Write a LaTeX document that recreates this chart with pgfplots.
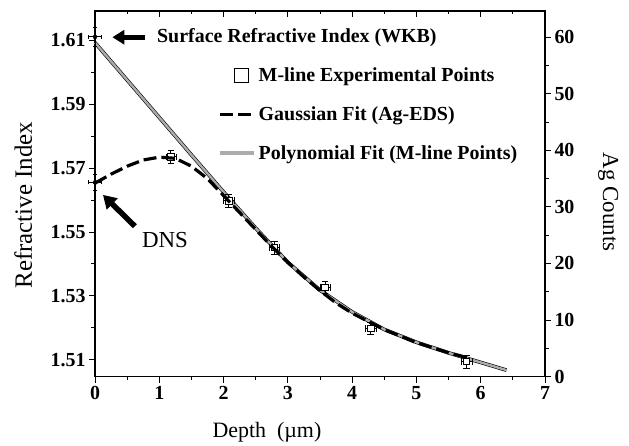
\documentclass[border=0pt]{standalone}
\usepackage{pgfplots}
\pgfplotsset{compat=1.18}
\usetikzlibrary{arrows.meta}
\usepackage{fontspec}
\setmainfont{Liberation Serif}
\pgfplotsset{longline/.style={legend image code/.code={\draw[##1] (0bp,0bp) -- (34bp,0bp);}}}

\begin{document}
\begin{tikzpicture}
\pgfplotsset{
  every axis/.append style={
    scale only axis, width=450bp, height=365.5bp,
    xmin=0, xmax=7, clip=false,
    tick align=outside,
    major tick length=6bp, minor tick length=3.5bp,
    axis line style={line width=1.2bp},
    every tick/.style={black, line width=0.9bp},
    tick label style={font=\bfseries\fontsize{20}{24}\selectfont},
    /pgf/number format/assume math mode=true,
  }
}
% left axis: refractive index
\begin{axis}[
  ymin=1.5048, ymax=1.6191,
  xtick={0,...,7}, minor x tick num=1,
  ytick={1.51,1.53,1.55,1.57,1.59,1.61},
  minor ytick={1.52,1.54,1.56,1.58,1.60},
  xtick pos=left, ytick pos=left,
  yticklabel style={/pgf/number format/.cd, fixed, fixed zerofill, precision=2},
  xlabel={Depth\ \ (µm)},
  ylabel={Refractive Index},
  every axis x label/.style={at={(axis description cs:0.382,-0.168)}, anchor=base, font=\fontsize{22}{26}\selectfont},
  every axis y label/.style={at={(axis description cs:-0.14,0.469)}, rotate=90, anchor=base, font=\fontsize{25}{29}\selectfont},
]
% polynomial fit
\addplot[draw=black, line width=0.6bp, double=gray!65, double distance=2.4bp] coordinates {
  (0,1.6092) (0.5,1.5975) (1.0,1.5858) (1.5,1.5741) (2.0,1.5625) (2.5,1.5512)
  (3.0,1.5405) (3.5,1.5318) (4.0,1.5250) (4.5,1.5195) (5.0,1.5155) (5.5,1.5122)
  (6.0,1.5092) (6.4,1.5068)};
% M-line experimental points
\addplot[only marks, mark=square*, mark size=3.3bp, mark options={fill=white, draw=black, line width=0.8bp},
  error bars/.cd, x dir=both, x explicit, y dir=both, y explicit,
  error bar style={line width=0.8bp, black}] coordinates {
  (1.18,1.5735) +- (0.08,0.002)
  (2.08,1.5598) +- (0.08,0.002)
  (2.79,1.5452) +- (0.08,0.002)
  (3.58,1.5327) +- (0.08,0.002)
  (4.29,1.5199) +- (0.08,0.002)
  (5.78,1.5095) +- (0.08,0.002)};
% surface (WKB) and DNS points
\addplot[only marks, mark=none,
  error bars/.cd, x dir=both, x explicit, y dir=both, y explicit,
  error bar style={line width=0.8bp, black}] coordinates {
  (0,1.6110) +- (0.1,0.003)
  (0,1.5655) +- (0.1,0.0025)};
\draw[-{Triangle[width=14bp,length=12bp]}, line width=5bp] (axis cs:0.78,1.6109) -- (axis cs:0.27,1.6109);
\node[anchor=base west, inner sep=0pt, font=\bfseries\fontsize{20}{24}\selectfont] at (axis cs:0.964,1.6091) {Surface Refractive Index (WKB)};
\draw[-{Triangle[width=15bp,length=13bp]}, line width=5.5bp] (axis cs:0.62,1.5518) -- (axis cs:0.124,1.5616);
\node[anchor=base west, inner sep=0pt, font=\fontsize{23}{27}\selectfont] at (axis cs:0.73,1.5450) {DNS};
\end{axis}
% top ticks pointing inward
\begin{axis}[
  axis x line*=top, axis y line=none, tick align=inside,
  ymin=0, ymax=1,
  xtick={0,...,7}, minor x tick num=1, xticklabels={},
]
\end{axis}
% right axis: Ag counts
\begin{axis}[
  ymin=0, ymax=64.66,
  axis y line*=right, axis x line=none,
  ytick={0,10,...,60}, minor y tick num=1,
  ylabel={Ag Counts},
  every axis y label/.style={at={(axis description cs:1.129,0.477)}, rotate=-90, anchor=base, font=\fontsize{23}{27}\selectfont},
  legend style={draw=none, fill=none, at={(axis description cs:0.273,0.851)}, anchor=north west,
    font=\bfseries\fontsize{20}{24}\selectfont, row sep=19.5bp, inner sep=0pt},
  legend cell align=left,
]
\addlegendimage{legend image code/.code={%
  \pgfpathrectangle{\pgfpointorigin}{\pgfqpoint{34bp}{0.1bp}}\pgfusepath{}%
  \node[draw, line width=0.8bp, minimum size=14bp, inner sep=0pt] at (14bp,0bp) {};}}
\addlegendentry{M-line Experimental Points}
% gaussian fit of Ag-EDS counts
\addplot[black, line width=3.2bp, dash pattern=on 13bp off 5bp, longline] coordinates {
  (0,34.2) (0.25,35.8) (0.5,37.2) (0.75,38.3) (1.0,38.8) (1.25,38.6) (1.5,37.2)
  (1.75,35.0) (2.0,32.0) (2.25,29.0) (2.5,26.0) (2.75,23.0) (3.0,20.2) (3.25,17.6)
  (3.5,15.2) (3.75,13.0) (4.0,11.2) (4.5,8.3) (5.0,6.0) (5.5,4.2) (5.8,3.3)};
\addlegendentry{Gaussian Fit (Ag-EDS)}
\addlegendimage{draw=black, line width=0.6bp, double=gray!65, double distance=3.5bp, longline}
\addlegendentry{Polynomial Fit (M-line Points)}
\end{axis}
\pgfresetboundingbox
\path (-95bp,-69.5bp) rectangle (534bp,376.5bp);
\end{tikzpicture}
\end{document}
